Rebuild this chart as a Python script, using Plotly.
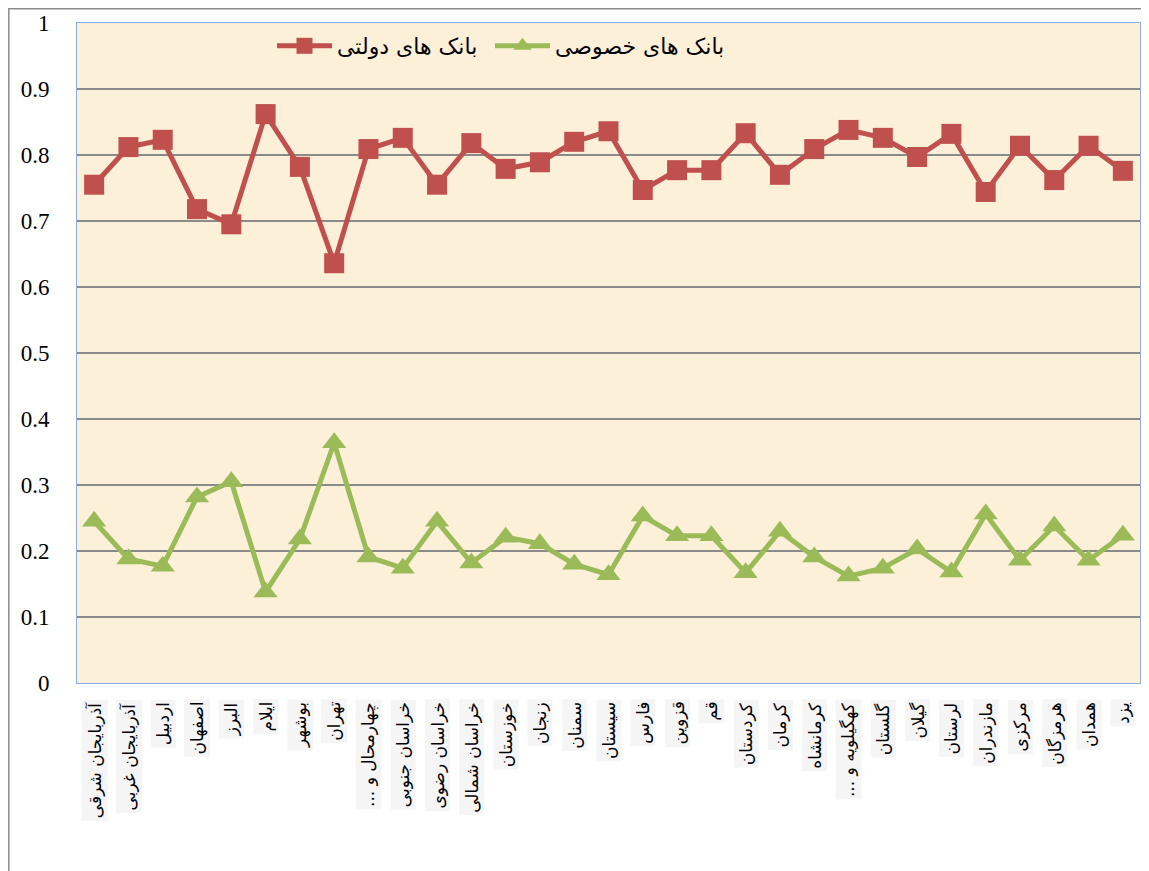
import plotly.graph_objects as go

provinces = [
    "آذربایجان شرقی", "آذربایجان غربی", "اردبیل", "اصفهان", "البرز", "ایلام",
    "بوشهر", "تهران", "چهارمحال و ...", "خراسان جنوبی", "خراسان رضوی",
    "خراسان شمالی", "خوزستان", "زنجان", "سمنان", "سیستان", "فارس", "قزوین",
    "قم", "کردستان", "کرمان", "کرمانشاه", "کهگیلویه و ...", "گلستان", "گیلان",
    "لرستان", "مازندران", "مرکزی", "هرمزگان", "همدان", "یزد",
]

state_banks = [
    0.755, 0.812, 0.823, 0.718, 0.695, 0.862, 0.782, 0.636, 0.809, 0.826,
    0.755, 0.818, 0.779, 0.789, 0.820, 0.836, 0.747, 0.777, 0.777, 0.833,
    0.770, 0.809, 0.838, 0.826, 0.797, 0.832, 0.744, 0.814, 0.762, 0.814,
    0.776,
]

private_banks = [
    0.245, 0.188, 0.177, 0.282, 0.305, 0.138, 0.218, 0.364, 0.191, 0.174,
    0.245, 0.182, 0.221, 0.211, 0.180, 0.164, 0.253, 0.223, 0.223, 0.167,
    0.230, 0.191, 0.162, 0.174, 0.203, 0.168, 0.256, 0.186, 0.238, 0.186,
    0.224,
]

state_name = "بانک های دولتی"
private_name = "بانک های خصوصی"

RLM = "\u200f"

fig = go.Figure()
fig.add_trace(go.Scatter(
    x=provinces, y=state_banks, name=state_name, mode="lines+markers",
    line=dict(color="#C0504D", width=5),
    marker=dict(symbol="square", size=20, color="#C0504D"),
    legend="legend",
))
fig.add_trace(go.Scatter(
    x=provinces, y=private_banks, name=private_name, mode="lines+markers",
    line=dict(color="#9BBB59", width=5),
    marker=dict(symbol="triangle-up", size=21, color="#9BBB59"),
    legend="legend2",
))

# page body has an 8px offset; figure coordinates below are screen - 8
OFF = 8
W, H = 1141, 863
L = 77 - OFF
T = 23 - OFF
pw = 1140 - 77
ph = 683 - 23
R = W - L - pw
B = H - T - ph

for p in provinces:
    fig.add_annotation(
        x=p, xref="x", y=-(699 - 683) / ph, yref="paper",
        text=RLM + p + RLM, textangle=-90, showarrow=False,
        xanchor="center", yanchor="top",
        font=dict(family="DejaVu Sans", size=17, color="black"),
        bgcolor="#f5f5f5", borderpad=2,
    )

fig.add_shape(
    type="rect", xref="paper", yref="paper",
    x0=(8.8 - 77) / pw, x1=(1147 - 77) / pw,
    y0=-(880 - 683) / ph, y1=(683 - 8.8) / ph,
    line=dict(color="#8c8c8c", width=1.5), fillcolor="rgba(0,0,0,0)",
    layer="below",
)

legend_common = dict(
    orientation="h", xanchor="left", yanchor="top",
    font=dict(family="DejaVu Sans", size=22, color="black"),
    bgcolor="rgba(0,0,0,0)", itemwidth=55,
)

fig.update_layout(
    width=W, height=H,
    margin=dict(l=L, r=R, t=T, b=B, autoexpand=False),
    paper_bgcolor="white",
    plot_bgcolor="#FCF0D9",
    showlegend=True,
    legend=dict(x=(272 - 77) / pw, y=(683 - 25) / ph, **legend_common),
    legend2=dict(x=(490 - 77) / pw, y=(683 - 25) / ph, **legend_common),
    xaxis=dict(
        range=[-0.5, len(provinces) - 0.5], automargin=False,
        showticklabels=False, showgrid=False, zeroline=False,
        showline=True, linecolor="#8FAADC", linewidth=1, mirror=True,
        ticks="",
    ),
    yaxis=dict(
        range=[0, 1], dtick=0.1, tick0=0, automargin=False,
        showgrid=True, gridcolor="#8a8a8a", gridwidth=1.5,
        zeroline=False, showline=True, linecolor="#8FAADC", linewidth=1,
        mirror=True, ticks="", ticklabelstandoff=22,
        tickfont=dict(family="Liberation Serif", size=23, color="black"),
    ),
)

fig.write_html("out.html")
